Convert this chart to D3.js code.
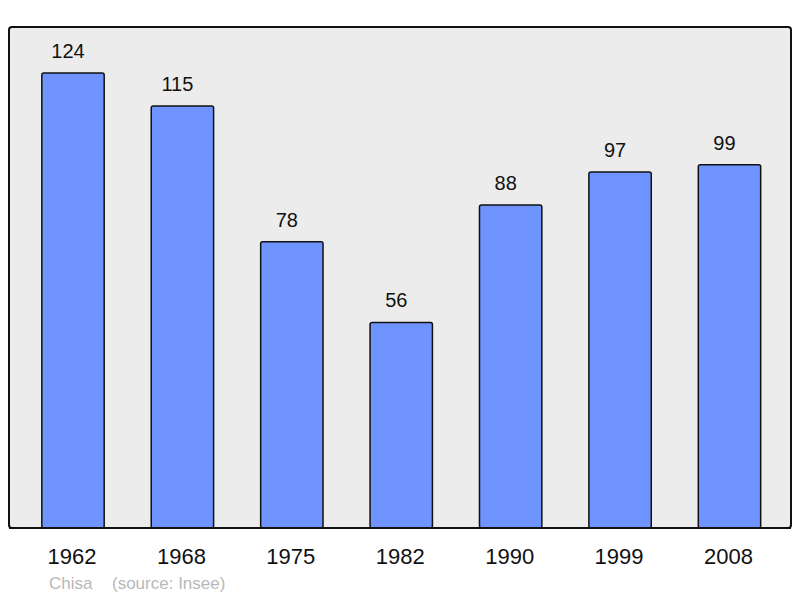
<!DOCTYPE html>
<html><head><meta charset="utf-8">
<script src="https://cdn.jsdelivr.net/npm/d3@7"></script>
<style>body{margin:0;background:#fff}svg{display:block}</style>
</head><body>
<script>
const years = ["1962","1968","1975","1982","1990","1999","2008"];
const population = [124,115,78,56,88,97,99];
const place = "Chisa";
const source = "(source: Insee)";

(function(){
const W=800,H=598;
const svg=d3.select("body").append("svg").attr("width",W).attr("height",H);
const pL=9,pR=791,pT=27,pB=528;
const x=d3.scaleBand().domain(years).range([pL,pR+2.5]).paddingInner(0.43).paddingOuter(0.3);
const y=d3.scaleLinear().domain([0,136.5]).range([pB,pT]);
const font="Liberation Sans, Arial, sans-serif";

svg.append("rect").attr("x",pL).attr("y",pT).attr("width",pR-pL).attr("height",pB-pT)
 .attr("rx",3).attr("fill","#ececec").attr("stroke","#111").attr("stroke-width",2);

const g=svg.append("g");
g.selectAll("rect.bar").data(years).join("rect").attr("class","bar")
 .attr("x",d=>x(d)).attr("width",x.bandwidth())
 .attr("y",(d,i)=>y(population[i])).attr("height",(d,i)=>pB-y(population[i]))
 .attr("rx",2).attr("fill","#7094ff").attr("stroke","#111").attr("stroke-width",1.5);

g.selectAll("text.val").data(years).join("text").attr("class","val")
 .attr("x",d=>x(d)+x.bandwidth()/2-5).attr("y",(d,i)=>y(population[i])-15)
 .attr("text-anchor","middle").attr("font-family",font)
 .attr("font-size",20).attr("fill","#111").text((d,i)=>population[i]);

svg.selectAll("text.year").data(years).join("text").attr("class","year")
 .attr("x",d=>x(d)+x.bandwidth()/2-1).attr("y",564)
 .attr("text-anchor","middle").attr("font-family",font)
 .attr("font-size",22).attr("fill","#111").text(d=>d);

svg.append("text").attr("x",49).attr("y",589).attr("font-family",font)
 .attr("font-size",17).attr("fill","#b8b8b8").text(place);
svg.append("text").attr("x",112).attr("y",589).attr("font-family",font)
 .attr("font-size",17).attr("fill","#b8b8b8").text(source);

svg.append("line").attr("x1",pL).attr("x2",pR).attr("y1",pB).attr("y2",pB).attr("stroke","#111").attr("stroke-width",2);
})();
</script>
</body></html>
